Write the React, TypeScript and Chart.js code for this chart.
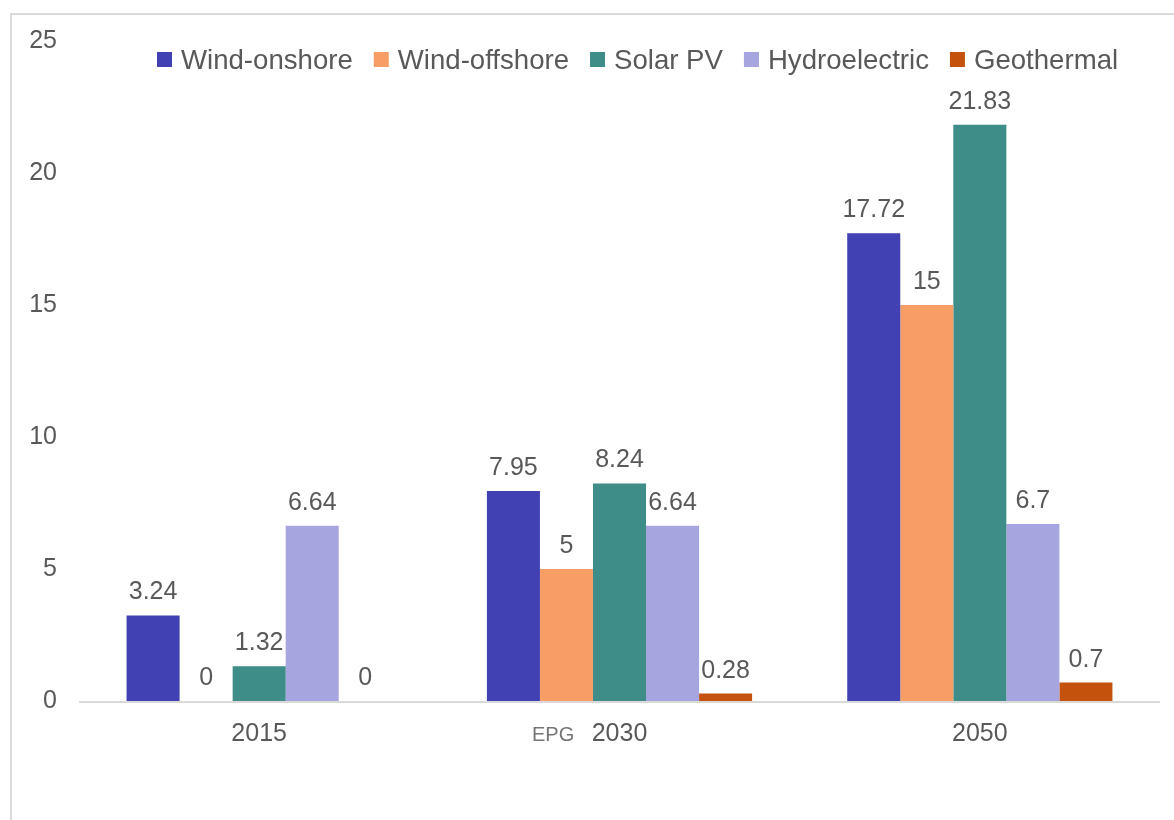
import React, { useEffect, useRef } from "react";
import { Chart, registerables } from "chart.js";

Chart.register(...registerables);

const categories = ["2015", "2030", "2050"];
const seriesNames = ["Wind-onshore", "Wind-offshore", "Solar PV", "Hydroelectric", "Geothermal"];
const windOnshore = [3.24, 7.95, 17.72];
const windOffshore = [0, 5, 15];
const solarPV = [1.32, 8.24, 21.83];
const hydroelectric = [6.64, 6.64, 6.7];
const geothermal = [0, 0.28, 0.7];
const seriesColors = ["#4141B3", "#F79E67", "#3E8D89", "#A7A5DF", "#C4520D"];
const yTicks = [0, 5, 10, 15, 20, 25];
const annotationText = "EPG";

const FONT = "'Liberation Sans', Arial, sans-serif";
const TEXT = "#595959";

const decorPlugin = {
  id: "decor",
  beforeDraw(chart: any) {
    const ctx = chart.ctx;
    ctx.save();
    ctx.fillStyle = "#ffffff";
    ctx.fillRect(0, 0, chart.width, chart.height);
    ctx.strokeStyle = "#d9d9d9";
    ctx.lineWidth = 2;
    ctx.beginPath();
    ctx.moveTo(11, chart.height);
    ctx.lineTo(11, 14);
    ctx.lineTo(chart.width, 14);
    ctx.stroke();
    // x axis baseline
    const a = chart.chartArea;
    const y0 = chart.scales.y.getPixelForValue(0);
    ctx.beginPath();
    ctx.moveTo(a.left, y0 + 1);
    ctx.lineTo(a.right, y0 + 1);
    ctx.stroke();
    ctx.restore();
  },
  afterDatasetsDraw(chart: any) {
    const ctx = chart.ctx;
    ctx.save();
    ctx.font = `25px ${FONT}`;
    ctx.fillStyle = TEXT;
    ctx.textAlign = "center";
    ctx.textBaseline = "alphabetic";
    chart.data.datasets.forEach((ds: any, i: number) => {
      const meta = chart.getDatasetMeta(i);
      meta.data.forEach((bar: any, j: number) => {
        const v = ds.data[j];
        ctx.fillText(String(v), bar.x, bar.y - 16);
      });
    });
    // legend
    ctx.font = `27.6px ${FONT}`;
    ctx.textAlign = "left";
    ctx.textBaseline = "middle";
    let x = 157;
    const ly = 60;
    seriesNames.forEach((name, i) => {
      ctx.fillStyle = seriesColors[i];
      ctx.fillRect(x, ly - 8, 15, 15);
      ctx.fillStyle = TEXT;
      ctx.fillText(name, x + 24, ly + 1);
      x += 24 + ctx.measureText(name).width + 21;
    });
    // annotation under axis
    ctx.font = `20px ${FONT}`;
    ctx.fillStyle = "#767676";
    ctx.textAlign = "left";
    ctx.textBaseline = "alphabetic";
    ctx.fillText(annotationText, 532, 741);
    ctx.restore();
  },
};

export default function App() {
  const ref = useRef<HTMLCanvasElement | null>(null);
  useEffect(() => {
    if (!ref.current) return;
    const data = [windOnshore, windOffshore, solarPV, hydroelectric, geothermal];
    const chart = new Chart(ref.current, {
      type: "bar",
      data: {
        labels: categories,
        datasets: seriesNames.map((n, i) => ({
          label: n,
          data: data[i],
          backgroundColor: seriesColors[i],
          borderWidth: 0,
          categoryPercentage: 0.736,
          barPercentage: 1,
        })),
      },
      options: {
        animation: false,
        responsive: false,
        maintainAspectRatio: false,
        layout: { padding: { top: 41, right: 14, left: 0, bottom: 0 } },
        plugins: { legend: { display: false }, tooltip: { enabled: false } },
        scales: {
          x: {
            grid: { display: false, drawTicks: false },
            border: { display: false },
            ticks: { color: TEXT, font: { family: FONT, size: 25 }, padding: 18 },
            afterFit(s: any) { s.height = 119; },
          },
          y: {
            min: 0,
            max: 25,
            afterBuildTicks(s: any) { s.ticks = yTicks.map((v) => ({ value: v })); },
            grid: { display: false, drawTicks: false },
            border: { display: false },
            ticks: { color: TEXT, font: { family: FONT, size: 25 }, padding: 22 },
            afterFit(s: any) { s.width = 79; },
          },
        },
      },
      plugins: [decorPlugin],
    });
    return () => chart.destroy();
  }, []);
  return (
    <div style={{ position: "fixed", left: 0, top: 0, width: 1174, height: 820, background: "#fff" }}>
      <canvas ref={ref} width={1174} height={820} style={{ width: 1174, height: 820, display: "block" }} />
    </div>
  );
}
